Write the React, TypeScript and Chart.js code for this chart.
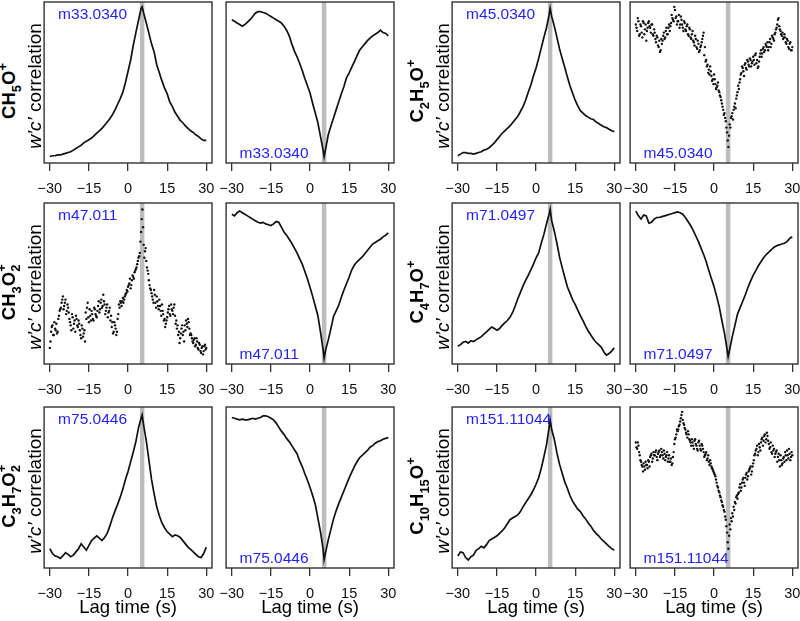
import React, { useEffect, useRef } from "react";
import { Chart, registerables } from "chart.js";

Chart.register(...registerables);

// ---------- data ----------
const LAGS = [-30,-29,-28,-27,-26,-25,-24,-23,-22,-21,-20,-19,-18,-17,-16,-15,-14,-13,-12,-11,-10,-9,-8,-7,-6,-5,-4,-3,-2,-1,0,1,2,3,4,5,6,7,8,9,10,11,12,13,14,15,16,17,18,19,20,21,22,23,24,25,26,27,28,29,30];
const LAGS_HALF = [-30,-29.5,-29,-28.5,-28,-27.5,-27,-26.5,-26,-25.5,-25,-24.5,-24,-23.5,-23,-22.5,-22,-21.5,-21,-20.5,-20,-19.5,-19,-18.5,-18,-17.5,-17,-16.5,-16,-15.5,-15,-14.5,-14,-13.5,-13,-12.5,-12,-11.5,-11,-10.5,-10,-9.5,-9,-8.5,-8,-7.5,-7,-6.5,-6,-5.5,-5,-4.5,-4,-3.5,-3,-2.5,-2,-1.5,-1,-0.5,0,0.5,1,1.5,2,2.5,3,3.5,4,4.5,5,5.5,6,6.5,7,7.5,8,8.5,9,9.5,10,10.5,11,11.5,12,12.5,13,13.5,14,14.5,15,15.5,16,16.5,17,17.5,18,18.5,19,19.5,20,20.5,21,21.5,22,22.5,23,23.5,24,24.5,25,25.5,26,26.5,27,27.5,28,28.5,29,29.5,30];
const LAGS_QUARTER = [-29.75,-29.25,-28.75,-28.25,-27.75,-27.25,-26.75,-26.25,-25.75,-25.25,-24.75,-24.25,-23.75,-23.25,-22.75,-22.25,-21.75,-21.25,-20.75,-20.25,-19.75,-19.25,-18.75,-18.25,-17.75,-17.25,-16.75,-16.25,-15.75,-15.25,-14.75,-14.25,-13.75,-13.25,-12.75,-12.25,-11.75,-11.25,-10.75,-10.25,-9.75,-9.25,-8.75,-8.25,-7.75,-7.25,-6.75,-6.25,-5.75,-5.25,-4.75,-4.25,-3.75,-3.25,-2.75,-2.25,-1.75,-1.25,-0.75,-0.25,0.25,0.75,1.25,1.75,2.25,2.75,3.25,3.75,4.25,4.75,5.25,5.75,6.25,6.75,7.25,7.75,8.25,8.75,9.25,9.75,10.25,10.75,11.25,11.75,12.25,12.75,13.25,13.75,14.25,14.75,15.25,15.75,16.25,16.75,17.25,17.75,18.25,18.75,19.25,19.75,20.25,20.75,21.25,21.75,22.25,22.75,23.25,23.75,24.25,24.75,25.25,25.75,26.25,26.75,27.25,27.75,28.25,28.75,29.25,29.75];
const LAG_LINE = 5.4;
const X_TICKS = [-30, -15, 0, 15, 30];

// m33.0340 (CH5O+)
const M33_LEFT = [4,4.5,4.5,5,5,5.5,6,6.5,7,8, 9,10,11,12.5,13.5,14.5,15.5,17,18.5,20, 21.5,23.5,25.5,27.5,30,33,36.5,40,44,50, 57,64,73,81,88.5,96,93,87,80.5,74, 69,61,56,51,46.5,43,38,35,31.5,29, 26.5,25,23,21.5,20,19,17.5,16.5,15,14,14];
const M33_LEFT_PEAK = 97;
const M33_RIGHT = [89,88,87,86,85,86,87.5,89,91,93, 94,94,93.5,93,92,91,90,89,88,87, 85,82.5,79,74,69.5,66,62,57.5,52.5,48, 43.5,37,31,25,16.5,8,9,17.7,23,28, 33,38,43,47.5,53,56,59.5,63,66.5,70, 72,74,76,77.5,79,80,81,82.5,81,80.5,79];
const M33_RIGHT_MIN = 4;

// m45.0340 (C2H5O+)
const M45_LEFT = [4.5,5.5,6.5,6.5,6,6,5.5,6,6.5,7, 8,8.5,9.5,11,12.5,14.5,16.5,18.5,20,21.5, 23,25,27,29,32,35,39,44,48.5,54, 59,65,71.5,78,84,92,91,85,78,71, 65,59.5,53.5,48,43.5,39,35.5,32.5,31,29.5, 28.5,27.5,27,25.5,24.5,23.5,22.5,22,21,20,19.5];
const M45_LEFT_PEAK = 96;
const M45_RIGHT = [86,82,88,80,85,78,87,83,76,84, 88,84,86,80,83,77,79,73,76,70, 74,79,77,82,80,84,82,87,90,88, 95,91,88,92,86,89,84,88,83,85, 80,84,78,80,76,73,77,71,74,70, 73,77,81,72,64,61,58,60,54,52, 55,49,47,50,44,41,37,33,31,26, 19,10,24,28,31,33,37,40,44,46, 52,56,59,54,62,58,63,60,64,62, 66,61,68,64,60,66,70,68,72,70, 73,75,72,77,74,78,76,81,84,89, 85,82,79,77,80,75,77,72,74,70, 72];
const M45_RIGHT_B = [84,90,79,86,81,88,80,86, 82,87,85,81,86,79, 81,75,78,72,69,77, 76,81,78,84,80,86, 85,92,89,97,90,86, 88,84,91,86,82,87, 82,86,79,83,77,82, 75,79,72,76,69,72, 75,79,67,63,60,56, 55,57,51,49,52,46, 48,45,42,39,35,30, 28,22,14,17, 22,29,27,35,34,42, 48,50,55,60,57,61, 59,64,61,65,60,63, 64,67,62,59,63,68, 66,71,69,74,72,70, 75,72,79,77,80,83, 86,90,83,80,81,78, 78,74,76,71,75,70];

// m47.011 (CH3O2+)
const M47_LEFT = [10,20,24,18,22,25,20,30,34,38, 42,36,40,33,35,28,24,31,22,27, 30,24,27,21,16,22,19,14,28,38, 26,30,33,28,35,31,29,36,32,38, 35,43,37,33,37,32,35,30,26,20, 24,18,28,37,39,36,41,40,43,46, 48,50,47,52,54,57,59,62,66,69, 82,96,74,70,64,58,52,47,44,40, 46,38,42,36,40,33,37,31,28,25, 29,34,31,37,33,35,30,27,24,20, 16,22,18,14,21,25,28,22,19,16, 13,16,12,14,9,12,7,11,8,12, 10];
const M47_LEFT_B = [14,23,18,26,21,19,28,33, 35,40,34,38,31,37, 32,26,21,29,25,20, 28,23,25,18,24,17, 21,32,35,29,34,27, 31,27,34,30,33,39, 34,40,36,39,31,35, 29,33,27,23,19,26, 22,20,31,35,38,39, 38,42,44,45,49,53, 49,55,53,58,60,64, 67,76,90,85, 66,72,60,56,49,46, 42,38,43,35,39,34, 36,30,33,27,23,27, 32,36,30,34,31,37, 25,22,18,13,19,24, 20,24,27,23,26,18, 18,14,15,11,16,10, 13,8,10,6,11,9];
const M47_RIGHT = [93,92,94,95,94,93,92,91,90,89, 88,87.5,88,87,86.5,86,87,88.5,88,85, 82,80,77.5,75,72,69,65.5,62,57.5,53, 47.5,42,36,30,20,9,9,15,22,29.5, 33,36.5,41.5,46,50,54,58.5,61.5,63.5,65, 66.5,68.5,70.5,72.5,74.5,75.5,76.5,77.5,79,80,81.5];
const M47_RIGHT_MIN = 3.7;

// m71.0497 (C4H7O+)
const M71_LEFT = [11,12,13.5,14,13,14.5,14,15,16,17, 18.5,20,21.5,23,22,21,22,24,25.5,27, 29,32,36,40.5,44.5,48.5,52,55,58.5,62, 66,69,75,80.5,87,93,89,82.5,75,66.5, 60,54,48,44,40,37,33.5,30,27,23.5, 20.5,18,15.5,13.5,12,10.5,7.5,5.5,6.5,8,10];
const M71_LEFT_PEAK = 96;
const M71_RIGHT = [95,92,90,92.5,92,87.5,88,90,91,91, 91.5,92,92.5,93,93.5,94,94.5,94,93,91, 88.5,86,83,79.5,76,72,68,63.5,58,53, 48,42,35.5,27,19,9,9,17,24,31, 35,39,43,47.5,51.5,55,58,61,63.5,66, 68,69.5,71,72.5,73.5,74,74.5,75,76,78,79];
const M71_RIGHT_MIN = 4.6;

// m75.0446 (C3H7O2+)
const M75_LEFT = [12,9,7.5,7,6,7.5,9.5,8.5,7,8, 10,12,15,13,11,14,17,18.5,20,18.5, 17,19,21.5,26,31,35.5,39.5,44,49,55, 60,66,72,78.5,87,93,88.5,79,67,55, 46,38,32.5,28,25,22.5,21,19.5,20.5,20, 19,17,15,13,11.5,10,8.5,7,6.5,9,13];
const M75_LEFT_PEAK = 95;
const M75_RIGHT = [93.5,93,92.5,92,92.5,92,92,92.5,93,92.5, 93,93.5,94.5,94.5,94,93,92,90,87.5,85, 83,80.5,78.5,76,73.5,71,66.5,63,58.5,54.5, 50,45,39.5,31,22.5,12,10,17.6,24,30.5, 35.5,40,44,48,52,56,59.5,63,66,68.5, 70,71.5,73,75,76,77.5,78.5,79,80,80.5,81];
const M75_RIGHT_MIN = 5.2;

// m151.11044 (C10H15O+)
const M151_LEFT = [7.5,10,9.5,6.5,5,7,8,11,12,13.5, 12.5,14.5,17,18,19,20,21.5,23,25,27.5, 30,31,32,33,35,38,40.5,43,45.5,48.5, 52,56,62,69,76.5,87,86,80,71.5,64.5, 59,53.5,49.5,45,41.5,39,36.5,35,32.5,30.5, 28,26,23.5,21.5,20,18,16.5,15,13.5,12,11];
const M151_LEFT_PEAK = 92;
const M151_RIGHT = [78,74,76,70,66,63,65,61,64,62, 66,69,71,68,70,72,69,71,73,70, 72,68,71,69,72,68,66,68,65,72, 80,83,85,88,91,95,92,89,86,83, 85,80,78,80,76,79,77,74,78,76, 73,76,72,70,72,68,66,67,63,61, 59,57,53,50,47,44,41,38,35,30, 22,12,27,31,34,38,41,44,43,47, 52,50,55,53,56,59,57,61,63,60, 65,70,73,76,72,75,78,81,79,83, 80,82,77,75,72,76,74,71,73,69, 67,70,64,68,66,70,73,68,71,69, 70];
const M151_RIGHT_B = [75,78,72,67,64,60,63,66, 64,67,63,70,66,72, 70,73,67,72,69,74, 70,73,67,70,66,70, 66,64,69,77,81,86, 86,89,93,97,90,87, 84,81,83,79,76,78, 74,80,76,73,79,74, 77,74,69,71,67,70, 64,65,62,60,58,55, 51,48,45,42,39,36, 32,26,16,20, 24,29,32,36,40,45, 46,50,48,53,56,51, 58,55,60,62,58,63, 67,71,74,70,77,73, 80,76,82,78,84,79, 74,78,71,73,69,72, 66,71,63,67,65,69, 72,67,70,74,67,72];

// ---------- layout ----------
const FONT = '"Liberation Sans", Arial, Helvetica, sans-serif';
const COL_X = [44, 226, 452, 630];
const ROW_Y = [2, 203, 407];
const BOX_W = 168;
const BOX_H = 161;
const PAD_X = 16;
const PAD_T = 4;
const AXIS_H = 40;
const CW = BOX_W + 2 * PAD_X;
const CH = PAD_T + BOX_H + AXIS_H;

type Series = { lags: number[]; values: number[] };
type Panel = {
  col: number; row: number; series: Series[];
  extremum?: number; label: string; labelTop: boolean; scatter: boolean;
};

const PANELS: Panel[] = [
  { col: 0, row: 0, series: [{ lags: LAGS, values: M33_LEFT }], extremum: M33_LEFT_PEAK, label: "m33.0340", labelTop: true, scatter: false },
  { col: 1, row: 0, series: [{ lags: LAGS, values: M33_RIGHT }], extremum: M33_RIGHT_MIN, label: "m33.0340", labelTop: false, scatter: false },
  { col: 2, row: 0, series: [{ lags: LAGS, values: M45_LEFT }], extremum: M45_LEFT_PEAK, label: "m45.0340", labelTop: true, scatter: false },
  { col: 3, row: 0, series: [{ lags: LAGS_HALF, values: M45_RIGHT }, { lags: LAGS_QUARTER, values: M45_RIGHT_B }], label: "m45.0340", labelTop: false, scatter: true },
  { col: 0, row: 1, series: [{ lags: LAGS_HALF, values: M47_LEFT }, { lags: LAGS_QUARTER, values: M47_LEFT_B }], label: "m47.011", labelTop: true, scatter: true },
  { col: 1, row: 1, series: [{ lags: LAGS, values: M47_RIGHT }], extremum: M47_RIGHT_MIN, label: "m47.011", labelTop: false, scatter: false },
  { col: 2, row: 1, series: [{ lags: LAGS, values: M71_LEFT }], extremum: M71_LEFT_PEAK, label: "m71.0497", labelTop: true, scatter: false },
  { col: 3, row: 1, series: [{ lags: LAGS, values: M71_RIGHT }], extremum: M71_RIGHT_MIN, label: "m71.0497", labelTop: false, scatter: false },
  { col: 0, row: 2, series: [{ lags: LAGS, values: M75_LEFT }], extremum: M75_LEFT_PEAK, label: "m75.0446", labelTop: true, scatter: false },
  { col: 1, row: 2, series: [{ lags: LAGS, values: M75_RIGHT }], extremum: M75_RIGHT_MIN, label: "m75.0446", labelTop: false, scatter: false },
  { col: 2, row: 2, series: [{ lags: LAGS, values: M151_LEFT }], extremum: M151_LEFT_PEAK, label: "m151.11044", labelTop: true, scatter: false },
  { col: 3, row: 2, series: [{ lags: LAGS_HALF, values: M151_RIGHT }, { lags: LAGS_QUARTER, values: M151_RIGHT_B }], label: "m151.11044", labelTop: false, scatter: true },
];

// formula parts: [main, sub, sup]
type Part = [string, string?, string?];
const FORMULAS: { col: number; row: number; parts: Part[] }[] = [
  { col: 0, row: 0, parts: [["C"], ["H", "5"], ["O", undefined, "+"]] },
  { col: 2, row: 0, parts: [["C", "2"], ["H", "5"], ["O", undefined, "+"]] },
  { col: 0, row: 1, parts: [["C"], ["H", "3"], ["O", "2", "+"]] },
  { col: 2, row: 1, parts: [["C", "4"], ["H", "7"], ["O", undefined, "+"]] },
  { col: 0, row: 2, parts: [["C", "3"], ["H", "7"], ["O", "2", "+"]] },
  { col: 2, row: 2, parts: [["C", "10"], ["H", "15"], ["O", undefined, "+"]] },
];

function PanelChart({ p }: { p: Panel }) {
  const ref = useRef<HTMLCanvasElement | null>(null);
  useEffect(() => {
    const datasets = p.series.map((s) => {
      const pts = s.lags.map((x, i) => ({ x, y: s.values[i] }));
      if (p.extremum !== undefined) {
        const idx = pts.findIndex((pt) => pt.x > LAG_LINE);
        pts.splice(idx, 0, { x: LAG_LINE, y: p.extremum });
      }
      return {
        data: pts,
        showLine: !p.scatter,
        borderColor: "#111",
        borderWidth: 1.7,
        pointRadius: p.scatter ? 1.2 : 0,
        pointBackgroundColor: "#111",
        pointBorderWidth: 0,
      } as any;
    });
    const decor = {
      id: "decor",
      beforeDatasetsDraw(chart: any) {
        const { ctx, chartArea: a, scales } = chart;
        const px = scales.x.getPixelForValue(LAG_LINE);
        ctx.save();
        ctx.strokeStyle = "#bdbdbd";
        ctx.lineWidth = 4.5;
        ctx.beginPath();
        ctx.moveTo(px, a.top);
        ctx.lineTo(px, a.bottom);
        ctx.stroke();
        ctx.restore();
      },
      afterDraw(chart: any) {
        const { ctx, chartArea: a } = chart;
        ctx.save();
        ctx.strokeStyle = "#333";
        ctx.lineWidth = 1.4;
        ctx.strokeRect(a.left, a.top, a.right - a.left, a.bottom - a.top);
        ctx.fillStyle = "#1f1fff";
        ctx.font = `15.5px ${FONT}`;
        ctx.textBaseline = "alphabetic";
        ctx.textAlign = "left";
        if (p.labelTop) ctx.fillText(p.label, a.left + 14, a.top + 17);
        else ctx.fillText(p.label, a.left + 13.5, a.bottom - 5.5);
        ctx.restore();
      },
    };
    const chart = new Chart(ref.current as HTMLCanvasElement, {
      type: "scatter",
      data: { datasets },
      options: {
        animation: false,
        responsive: false,
        maintainAspectRatio: false,
        layout: { padding: { left: PAD_X, right: PAD_X, top: PAD_T, bottom: 0 } },
        plugins: { legend: { display: false }, tooltip: { enabled: false } },
        scales: {
          x: {
            type: "linear",
            min: -32.2,
            max: 32.2,
            afterBuildTicks: (s: any) => {
              s.ticks = X_TICKS.map((v) => ({ value: v }));
            },
            afterFit: (s: any) => {
              s.height = AXIS_H;
            },
            grid: { drawOnChartArea: false, drawTicks: true, tickLength: 8, color: "#333", lineWidth: 1.3 },
            border: { display: false },
            ticks: {
              padding: 9,
              autoSkip: false,
              maxRotation: 0,
              color: "#111",
              font: { family: FONT, size: 14.5 },
              callback: (v: any) => (Number(v) < 0 ? "\u2212" + Math.abs(Number(v)) : String(v)),
            },
          },
          y: { display: false, min: 0, max: 100 },
        },
      } as any,
      plugins: [decor],
    });
    return () => chart.destroy();
  }, [p]);
  return (
    <canvas
      ref={ref}
      width={CW}
      height={CH}
      style={{ position: "absolute", left: COL_X[p.col] - PAD_X, top: ROW_Y[p.row] - PAD_T, width: CW, height: CH }}
    />
  );
}

function Formula({ parts }: { parts: Part[] }) {
  return (
    <>
      {parts.map((pt, i) => {
        const [main, sub, sup] = pt;
        return (
          <React.Fragment key={i}>
            {main}
            {sub && sup ? (
              <span style={{ position: "relative", display: "inline-block", fontSize: "0.7em", lineHeight: 1, width: "0.62em", height: 0 }}>
                <span style={{ position: "absolute", left: 0, top: "-1.45em" }}>{sup}</span>
                <span style={{ position: "absolute", left: 0, top: "-0.42em" }}>{sub}</span>
              </span>
            ) : null}
            {sub && !sup ? (
              <span style={{ position: "relative", fontSize: "0.7em", top: "0.43em" }}>{sub}</span>
            ) : null}
            {sup && !sub ? (
              <span style={{ position: "relative", fontSize: "0.7em", top: "-0.62em" }}>{sup}</span>
            ) : null}
          </React.Fragment>
        );
      })}
    </>
  );
}

function Rotated({ x, cy, size, bold, children }: any) {
  return (
    <div
      style={{
        position: "absolute",
        left: x,
        top: cy,
        transformOrigin: "0 0",
        transform: "rotate(-90deg) translateX(-50%)",
        whiteSpace: "nowrap",
        lineHeight: 1,
        fontSize: size,
        fontWeight: bold ? "bold" : "normal",
        fontFamily: FONT,
        color: "#000",
      }}
    >
      {children}
    </div>
  );
}

export default function App() {
  return (
    <div
      style={{
        position: "absolute",
        left: 0,
        top: 0,
        width: 800,
        height: 621,
        overflow: "hidden",
        background: "#fff",
        fontFamily: FONT,
      }}
    >
      {PANELS.map((p, i) => (
        <PanelChart key={i} p={p} />
      ))}
      {FORMULAS.map((f, i) => {
        const left = COL_X[f.col];
        const cy = ROW_Y[f.row] + BOX_H / 2;
        return (
          <React.Fragment key={i}>
            <Rotated x={left - 44} cy={cy + 8} size={18.5} bold>
              <Formula parts={f.parts} />
            </Rotated>
            <Rotated x={left - 19} cy={cy + 3} size={19}>
              <span style={{ fontStyle: "italic" }}>w’c’</span> correlation
            </Rotated>
          </React.Fragment>
        );
      })}
      {COL_X.map((x, i) => (
        <div
          key={i}
          style={{
            position: "absolute",
            left: x,
            top: 597.5,
            width: BOX_W,
            textAlign: "center",
            fontSize: 18.5,
            lineHeight: 1,
            fontFamily: FONT,
            color: "#000",
            whiteSpace: "nowrap",
          }}
        >
          Lag time (s)
        </div>
      ))}
    </div>
  );
}
